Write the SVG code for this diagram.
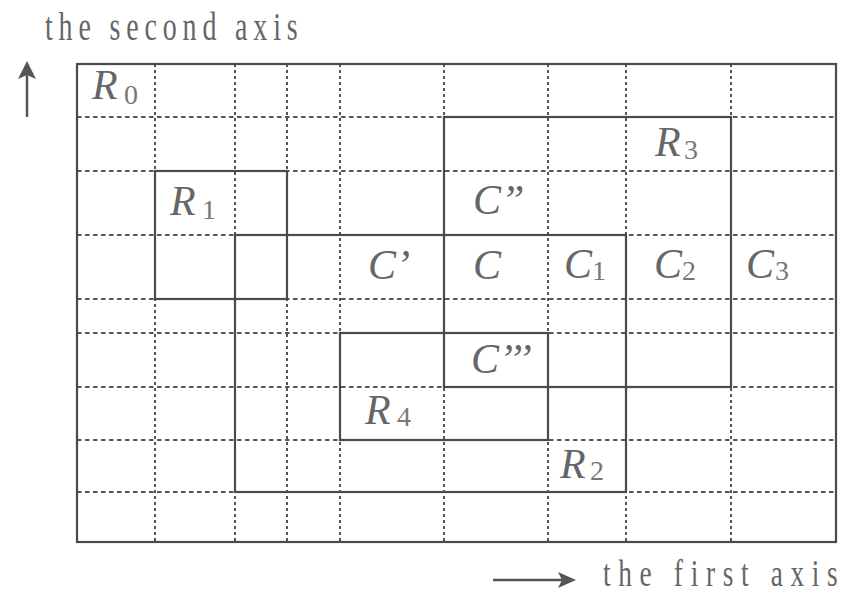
<svg xmlns="http://www.w3.org/2000/svg" width="845" height="595" viewBox="0 0 845 595">
<defs>
<style>
.hd{stroke:#555;stroke-width:2;stroke-dasharray:4.5 3.5;fill:none}
.vd{stroke:#555;stroke-width:2;stroke-dasharray:3 3;fill:none}
.sl{stroke:#4a4a4a;stroke-width:2.2;fill:none}
.lb{font-family:"Liberation Serif",serif;font-style:italic;font-size:42px;fill:#666}
.sb{font-family:"Liberation Serif",serif;font-style:normal;font-size:28px;fill:#777}
.ax{font-family:"Liberation Serif",serif;font-size:40px;fill:#666}
.ar{stroke:#555;stroke-width:2.5;fill:none}
.hh{fill:#555}
</style>
</defs>
<rect width="845" height="595" fill="#fff"/>
<g id="grid">
<path class="hd" d="M77,117H836M77,171H836M77,235H836M77,299H836M77,333H836M77,387H836M77,440H836M77,492H836"/>
<path class="vd" d="M155,64V542M235,64V542M287,64V542M340,64V542M444,64V542M548,64V542M626,64V542M731,64V542"/>
</g>
<g id="R0">
<rect class="sl" x="77" y="64" width="759" height="478"/>
<text class="lb" x="92" y="99">R</text><text class="sb" x="124" y="104">0</text>
</g>
<g id="R1">
<rect class="sl" x="155" y="171" width="132" height="128"/>
<text class="lb" x="170" y="215">R</text><text class="sb" x="202" y="219">1</text>
</g>
<g id="R2">
<rect class="sl" x="235" y="235" width="391" height="257"/>
<text class="lb" x="560" y="478">R</text><text class="sb" x="590" y="480">2</text>
</g>
<g id="R3">
<rect class="sl" x="444" y="117" width="287" height="270"/>
<text class="lb" x="655" y="156">R</text><text class="sb" x="684" y="159">3</text>
</g>
<g id="R4">
<rect class="sl" x="340" y="333" width="208" height="107"/>
<text class="lb" x="365" y="424">R</text><text class="sb" x="397" y="426">4</text>
</g>
<g id="cells">
<text class="lb" x="473" y="214">C”</text>
<text class="lb" x="368" y="279">C’</text>
<text class="lb" x="473" y="279">C</text>
<text class="lb" x="564" y="278">C</text><text class="sb" x="592" y="280">1</text>
<text class="lb" x="654" y="278">C</text><text class="sb" x="682" y="280">2</text>
<text class="lb" x="746" y="278">C</text><text class="sb" x="775" y="280">3</text>
<text class="lb" x="471" y="373">C’’’</text>
</g>
<g id="axes">
<line class="ar" x1="27" y1="117" x2="27" y2="72"/>
<polygon class="hh" points="27,61 36,79 27,75 18,79"/>
<line class="ar" x1="493" y1="580" x2="563" y2="580"/>
<polygon class="hh" points="576,580 558,572 562,580 558,588"/>
<text class="ax" transform="translate(45,40) scale(0.7,1)" x="0" y="0" textLength="361" lengthAdjust="spacing">the second axis</text>
<text class="ax" style="font-size:38px" transform="translate(603,586) scale(0.72,1)" x="0" y="0" textLength="326" lengthAdjust="spacing">the first axis</text>
</g>
</svg>
